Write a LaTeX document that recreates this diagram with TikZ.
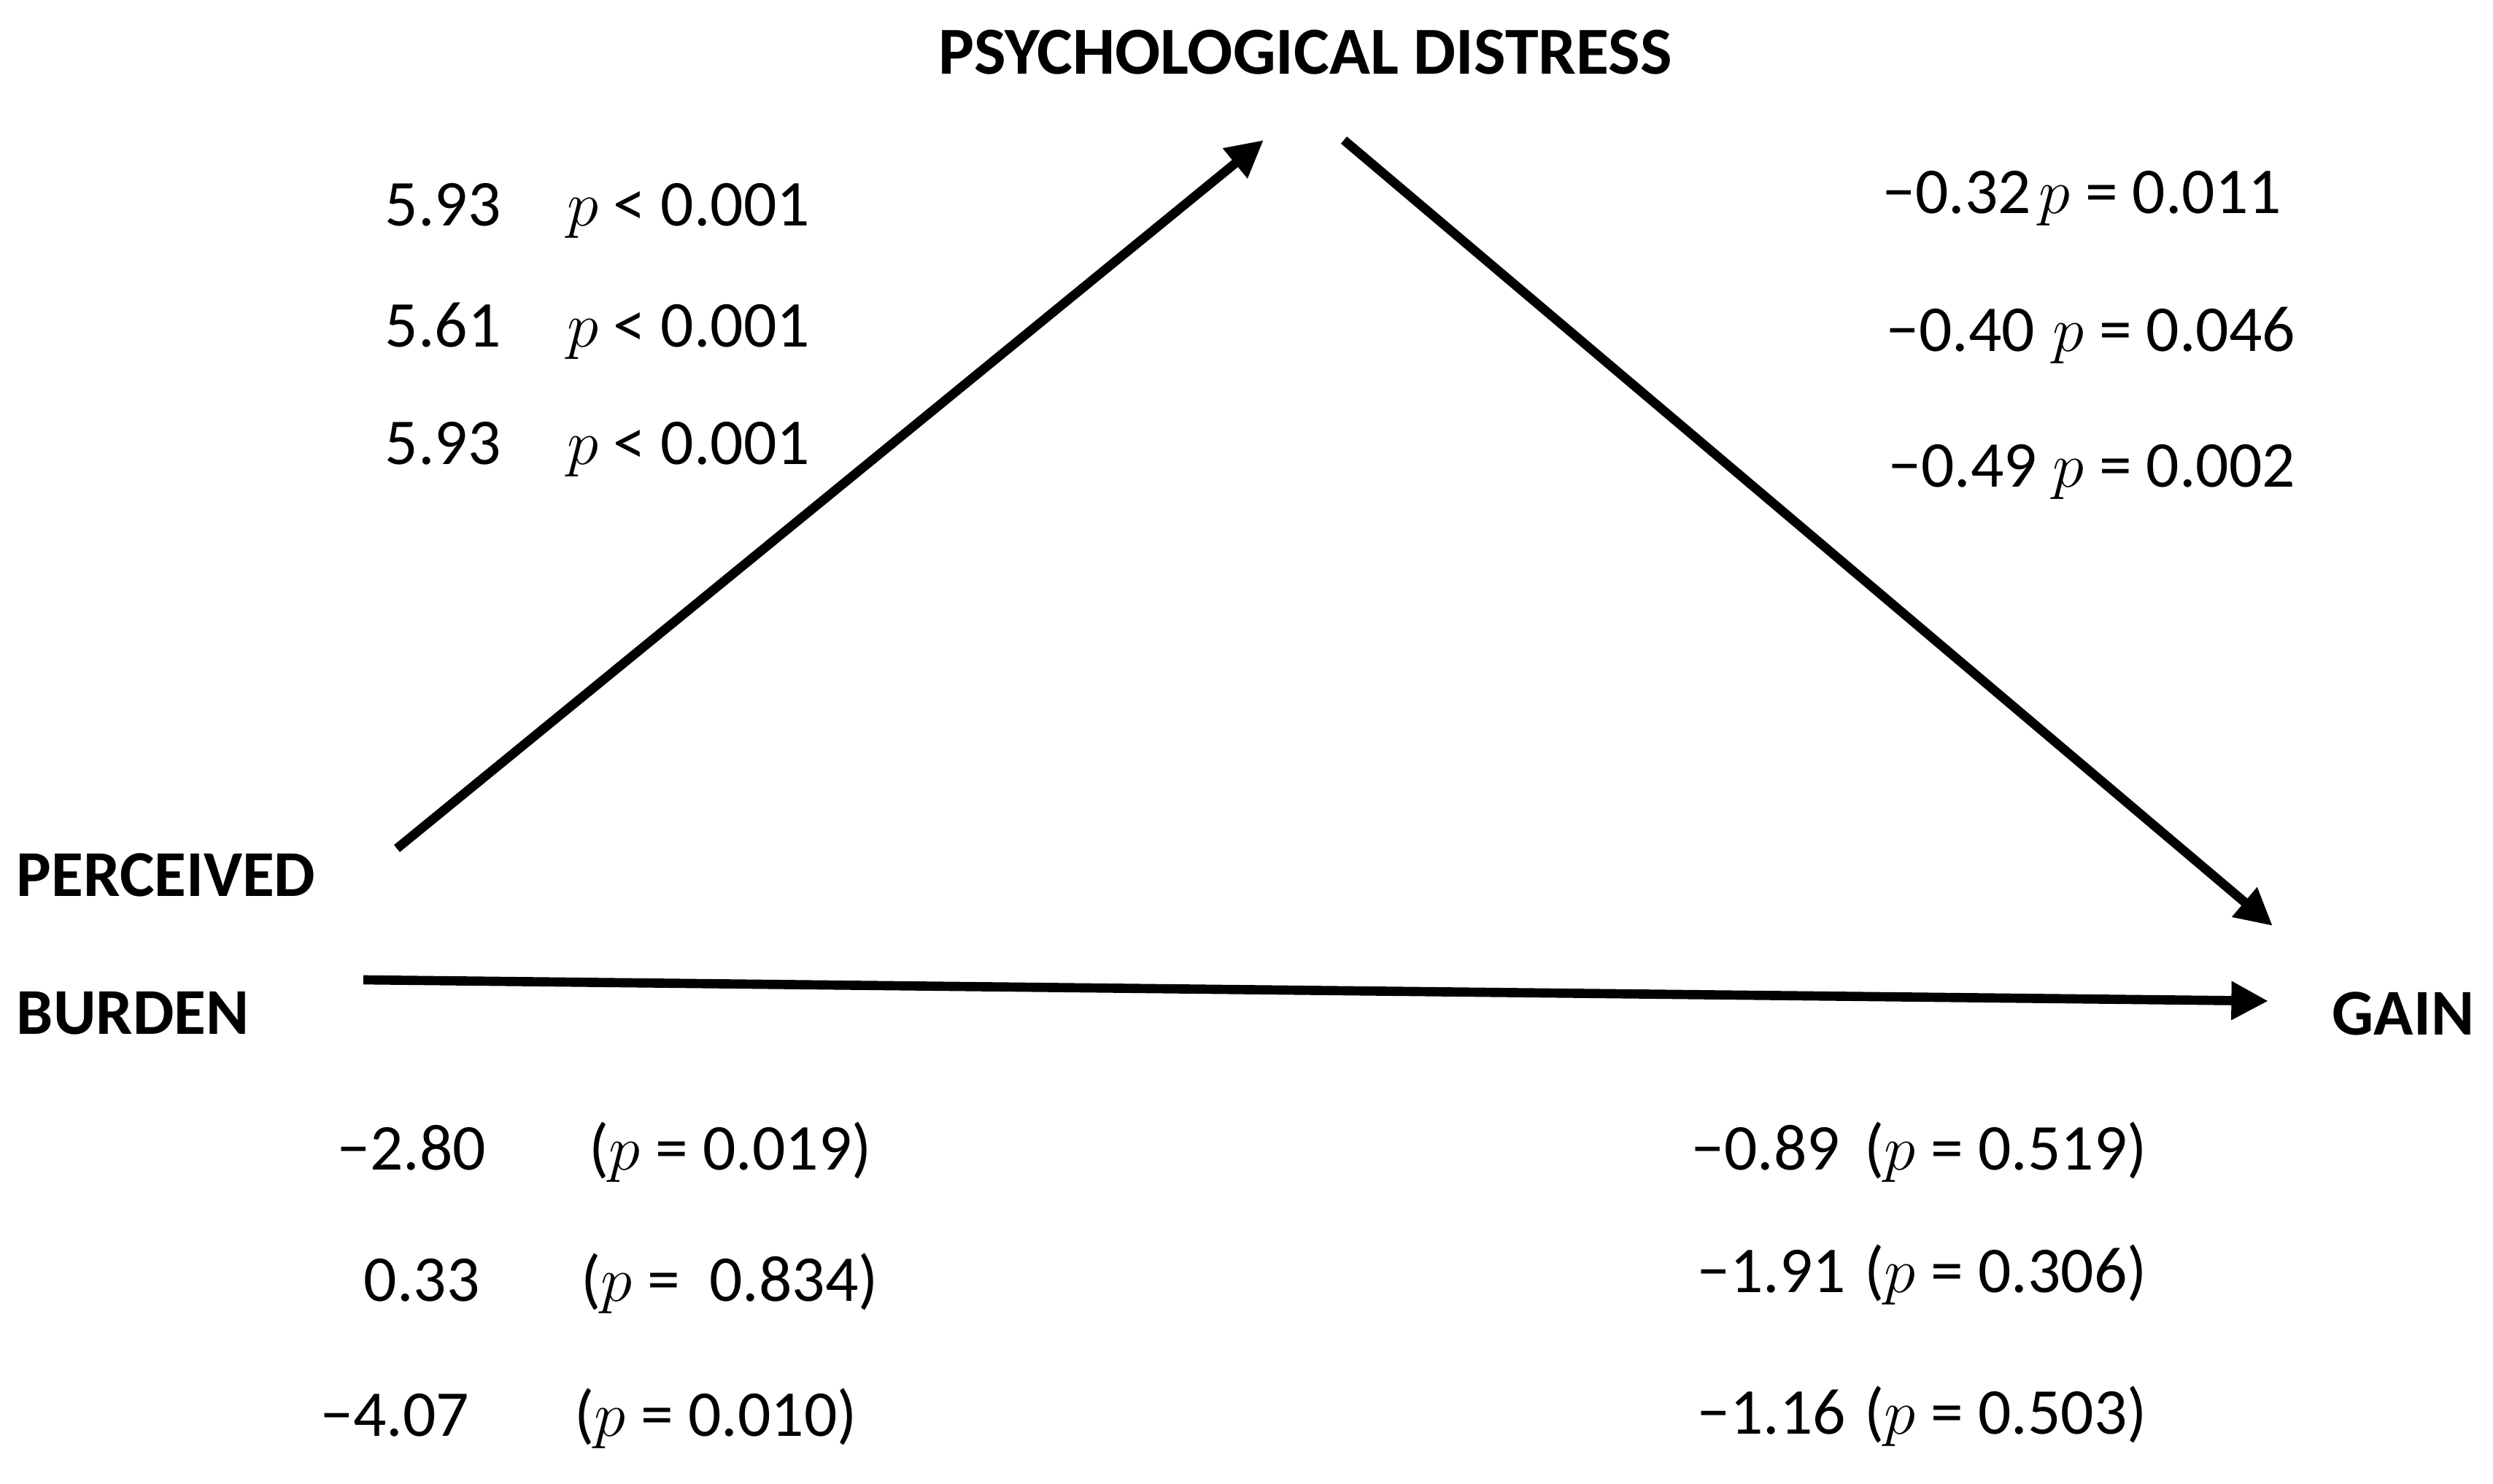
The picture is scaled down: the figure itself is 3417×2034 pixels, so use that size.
\documentclass[tikz,border=0pt]{standalone}
\usepackage{fontspec}
\setmainfont{Carlito}
\usetikzlibrary{arrows.meta}
\begin{document}
\begin{tikzpicture}[x=0.01cm,y=-0.01cm,
  lbl/.style={font=\fontsize{25.5}{30}\selectfont\bfseries, inner sep=0pt, anchor=base west},
  val/.style={font=\fontsize{25.5}{30}\selectfont, inner sep=0pt, anchor=base west},
  conn/.style={line width=3.6pt, -{Triangle[length=14.4pt,width=14.2pt]}}]
\useasboundingbox (0,0) rectangle (3417,2034);
% variable labels
\node[lbl, anchor=base, font=\fontsize{26.2}{30}\selectfont\bfseries] (pd) at (1789,102) {PSYCHOLOGICAL DISTRESS};
\node[lbl] (pb1) at (22,1228) {PERCEIVED};
\node[lbl] (pb2) at (22,1417) {BURDEN};
\node[lbl] (gain) at (3196,1418) {GAIN};
% connector end points
\coordinate (pbA) at (544,1163);
\coordinate (pdA) at (1732,192);
\coordinate (pdB) at (1842,192);
\coordinate (gA) at (3115,1269);
\coordinate (pbB) at (498,1343);
\coordinate (gB) at (3109,1372);
\draw[conn] (pbA) -- (pdA);
\draw[conn] (pdB) -- (gA);
\draw[conn] (pbB) -- (gB);
% a path values
\node[val] (a1) at (527,310) {5.93};
\node[val] (a1p) at (777,310) {$p$ < 0.001};
\node[val] (a2) at (527,476) {5.61};
\node[val] (a2p) at (777,476) {$p$ < 0.001};
\node[val] (a3) at (527,637) {5.93};
\node[val] (a3p) at (777,637) {$p$ < 0.001};
% b path values
\node[val] (b1) at (2580,293) {−0.32};
\node[val] (b1p) at (2794,293) {$p$ = 0.011};
\node[val] (b2) at (2585,482) {−0.40};
\node[val] (b2p) at (2813,482) {$p$ = 0.046};
\node[val] (b3) at (2588,668) {−0.49};
\node[val] (b3p) at (2813,668) {$p$ = 0.002};
% c' path values
\node[val] (c1) at (462,1603) {−2.80};
\node[val] (c1p) at (807,1603) {($p$ = 0.019)};
\node[val] (c2) at (498,1783) {0.33};
\node[val] (c2p) at (796,1783) {($p$ =\ \ 0.834)};
\node[val] (c3) at (439,1968) {−4.07};
\node[val] (c3p) at (787,1968) {($p$ = 0.010)};
% indirect values
\node[val] (d1) at (2318,1603) {−0.89};
\node[val] (d1p) at (2555,1603) {($p$ = 0.519)};
\node[val] (d2) at (2326,1771) {−1.91};
\node[val] (d2p) at (2555,1771) {($p$ = 0.306)};
\node[val] (d3) at (2326,1965) {−1.16};
\node[val] (d3p) at (2555,1965) {($p$ = 0.503)};
\end{tikzpicture}
\end{document}
